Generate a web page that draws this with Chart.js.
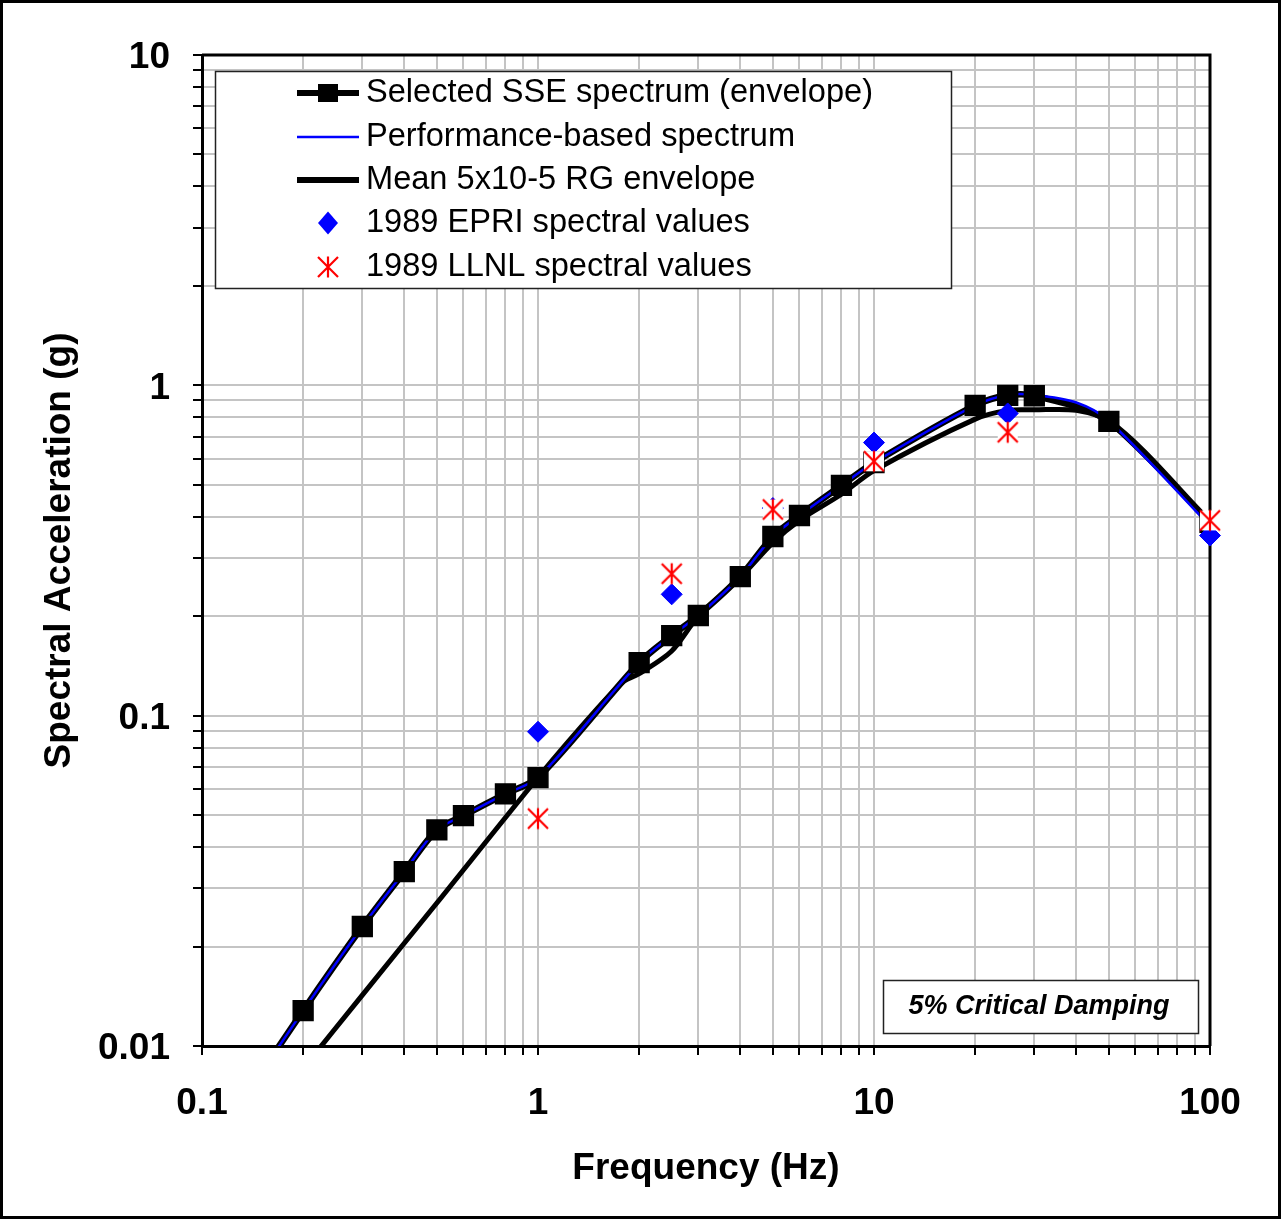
<!DOCTYPE html>
<html>
<head>
<meta charset="utf-8">
<title>Spectral Acceleration</title>
<style>
  html, body { margin: 0; padding: 0; background: #fff; }
  #chart { display: block; }
</style>
<script src="https://cdn.jsdelivr.net/npm/chart.js@4.4.1/dist/chart.umd.min.js"></script>
</head>
<body>
<canvas id="chart" width="1282" height="1220"></canvas>
<script>
// --- data (Hz, g) ---
// selected SSE spectrum (envelope) - square markers
const sseFreq = [0.1, 0.2, 0.3, 0.4, 0.5, 0.6, 0.8, 1, 2, 2.5, 3, 4, 5, 6, 8, 10, 20, 25, 30, 50, 100];
const sseAcc = [0.0045, 0.0128, 0.023, 0.0337, 0.0451, 0.0498, 0.058, 0.0649, 0.1447, 0.1747, 0.201, 0.2636, 0.3486, 0.4036, 0.4977, 0.584, 0.87, 0.933, 0.93, 0.778, 0.385];

// performance-based spectrum (thin blue)
const perfFreq = [0.1, 0.2, 0.3, 0.4, 0.5, 0.6, 0.8, 1, 2, 2.5, 3, 4, 5, 6, 8, 10, 20, 25, 30, 40, 50, 100];
const perfAcc = [0.0045, 0.0128, 0.023, 0.0337, 0.0451, 0.0498, 0.058, 0.0649, 0.1447, 0.1747, 0.201, 0.2636, 0.3486, 0.4036, 0.4977, 0.584, 0.87, 0.935, 0.935, 0.887, 0.78, 0.375];

// mean 5x10-5 RG envelope
const rgFreq = [0.1, 0.2, 0.3, 0.5, 1, 1.5, 1.8, 2, 2.5, 3, 4, 5, 6, 8, 10, 20, 25, 30, 40, 50, 100];
const rgAcc = [0.00357, 0.00855, 0.01426, 0.0271, 0.065, 0.105, 0.127, 0.134, 0.157, 0.2, 0.262, 0.334, 0.39, 0.468, 0.552, 0.79, 0.84, 0.843, 0.84, 0.775, 0.385];

// 1989 point values
const epriFreq = [1, 2.5, 5, 10, 25, 100];
const epriAcc = [0.0894, 0.233, 0.425, 0.671, 0.822, 0.351];
const llnlFreq = [1, 2.5, 5, 10, 25, 100];
const llnlAcc = [0.0488, 0.269, 0.421, 0.589, 0.721, 0.39];

const xTickLabels = ['0.1', '1', '10', '100'];
const yTickLabels = ['0.01', '0.1', '1', '10'];
const legendLabels = [
  'Selected SSE spectrum (envelope)',
  'Performance-based spectrum',
  'Mean 5x10-5 RG envelope',
  '1989 EPRI spectral values',
  '1989 LLNL spectral values'
];
const noteText = '5% Critical Damping';

const FONT = '"Liberation Sans", Arial, Helvetica, sans-serif';
const BLUE = '#0000ff';
const RED = '#ff0000';

const pts = (xs, ys) => xs.map((x, i) => ({ x: x, y: ys[i] }));

// 1..9 in every decade, for the log grid
function decadeTicks(min, max) {
  const t = [];
  for (let e = Math.round(Math.log10(min)); e < Math.round(Math.log10(max)); e++) {
    for (let m = 1; m < 10; m++) t.push({ value: +(m * Math.pow(10, e)).toPrecision(6) });
  }
  t.push({ value: max });
  return t;
}

function tickLabel(labels) {
  return function (value) {
    const hit = labels.find(l => Math.abs(Math.log10(parseFloat(l) / value)) < 1e-6);
    return hit !== undefined ? hit : '';
  };
}

// excel style asterisk: white square behind, vertical bar plus an X
function asterisk(size, color) {
  const c = document.createElement('canvas');
  c.width = size; c.height = size;
  const g = c.getContext('2d');
  const m = size / 2, r = 10;
  g.fillStyle = '#fff';
  g.fillRect(m - 10, m - 10, 20, 20);
  g.strokeStyle = color;
  g.lineWidth = 2.2;
  g.beginPath();
  g.moveTo(m, m - r - 0.5); g.lineTo(m, m + r + 0.5);
  g.moveTo(m - r, m - r); g.lineTo(m + r, m + r);
  g.moveTo(m + r, m - r); g.lineTo(m - r, m + r);
  g.stroke();
  return c;
}
const star = asterisk(24, RED);

const overlay = {
  id: 'overlay',
  beforeDatasetsDraw(chart) {
    const a = chart.chartArea, g = chart.ctx;
    g.save();
    g.strokeStyle = '#000';
    g.lineWidth = 3;
    g.beginPath();
    g.moveTo(a.left, a.top);
    g.lineTo(a.right, a.top);
    g.lineTo(a.right, a.bottom);
    g.stroke();
    g.restore();
  },
  afterDraw(chart) {
    const g = chart.ctx;
    g.save();

    // legend box
    g.fillStyle = '#fff';
    g.fillRect(215, 71, 736, 217);
    g.strokeStyle = '#222';
    g.lineWidth = 1.5;
    g.strokeRect(215.5, 71.5, 736, 217);

    const rows = [93, 137, 180, 223, 267];
    const x0 = 297, x1 = 359, xm = 328;
    g.lineCap = 'butt';

    // SSE: thick line + square
    g.strokeStyle = '#000'; g.lineWidth = 6;
    g.beginPath(); g.moveTo(x0, rows[0]); g.lineTo(x1, rows[0]); g.stroke();
    g.fillStyle = '#000';
    g.fillRect(xm - 10, rows[0] - 9, 20, 18);

    // performance: thin blue
    g.strokeStyle = BLUE; g.lineWidth = 2.5;
    g.beginPath(); g.moveTo(x0, rows[1]); g.lineTo(x1, rows[1]); g.stroke();

    // RG: thick black
    g.strokeStyle = '#000'; g.lineWidth = 6;
    g.beginPath(); g.moveTo(x0, rows[2]); g.lineTo(x1, rows[2]); g.stroke();

    // EPRI diamond
    g.fillStyle = BLUE;
    g.beginPath();
    g.moveTo(xm, rows[3] - 11.5); g.lineTo(xm + 10, rows[3]);
    g.lineTo(xm, rows[3] + 11.5); g.lineTo(xm - 10, rows[3]);
    g.closePath(); g.fill();

    // LLNL asterisk
    g.drawImage(star, xm - star.width / 2, rows[4] - star.height / 2);

    g.fillStyle = '#000';
    g.font = '32.6px ' + FONT;
    g.textBaseline = 'middle';
    g.textAlign = 'left';
    legendLabels.forEach((t, i) => g.fillText(t, 366, rows[i]));

    // damping note
    g.fillStyle = '#fff';
    g.fillRect(883, 980, 315, 53);
    g.strokeStyle = '#222';
    g.lineWidth = 1.5;
    g.strokeRect(883.5, 980.5, 315, 53);
    g.fillStyle = '#000';
    g.font = 'italic bold 27px ' + FONT;
    g.textAlign = 'center';
    g.fillText(noteText, 1039, 1007);

    // frame round the whole picture
    g.strokeStyle = '#000';
    g.lineWidth = 3;
    g.strokeRect(1.5, 1.5, 1278, 1216);
    g.restore();
  }
};

const gridOpts = {
  color: '#c4c4c4',
  lineWidth: 2,
  tickColor: '#000',
  tickWidth: 2,
  tickLength: 9
};

const chart = new Chart(document.getElementById('chart').getContext('2d'), {
  type: 'line',
  data: {
    datasets: [
      {
        label: legendLabels[4],
        data: pts(llnlFreq, llnlAcc),
        showLine: false,
        pointStyle: star,
        pointRadius: 11,
        clip: false,
        order: 0
      },
      {
        label: legendLabels[3],
        data: pts(epriFreq, epriAcc),
        showLine: false,
        pointStyle: 'rectRot',
        pointRadius: 10.5,
        pointBackgroundColor: BLUE,
        pointBorderColor: BLUE,
        pointBorderWidth: 1,
        clip: false,
        order: 1
      },
      {
        label: legendLabels[0] + ' markers',
        data: pts(sseFreq, sseAcc),
        showLine: false,
        pointStyle: 'rect',
        pointRadius: 14,
        pointBackgroundColor: '#000',
        pointBorderColor: '#000',
        pointBorderWidth: 1.5,
        borderWidth: 1,
        order: 2
      },
      {
        label: legendLabels[1],
        data: pts(perfFreq, perfAcc),
        borderColor: BLUE,
        borderWidth: 2.5,
        pointRadius: 0,
        tension: 0.3,
        order: 3
      },
      {
        label: legendLabels[0],
        data: pts(sseFreq, sseAcc),
        borderColor: '#000',
        borderWidth: 6.5,
        pointRadius: 0,
        tension: 0.3,
        order: 4
      },
      {
        label: legendLabels[2],
        data: pts(rgFreq, rgAcc),
        borderColor: '#000',
        borderWidth: 5,
        pointRadius: 0,
        tension: 0.3,
        order: 5
      }
    ]
  },
  options: {
    responsive: false,
    animation: false,
    events: [],
    layout: { padding: { top: 55, right: 72, bottom: 0, left: 0 } },
    plugins: {
      legend: { display: false },
      tooltip: { enabled: false }
    },
    scales: {
      x: {
        type: 'logarithmic',
        min: 0.1,
        max: 100,
        afterBuildTicks: s => { s.ticks = decadeTicks(0.1, 100); },
        afterFit: s => { s.height = 174; },
        grid: gridOpts,
        border: { color: '#000', width: 3 },
        ticks: {
          autoSkip: false,
          maxRotation: 0,
          padding: 27,
          color: '#000',
          font: { family: FONT, size: 37, weight: 'bold' },
          callback: tickLabel(xTickLabels)
        },
        title: {
          display: true,
          text: 'Frequency (Hz)',
          color: '#000',
          font: { family: FONT, size: 37, weight: 'bold' },
          padding: { top: 0, bottom: 29 }
        }
      },
      y: {
        type: 'logarithmic',
        min: 0.01,
        max: 10,
        afterBuildTicks: s => { s.ticks = decadeTicks(0.01, 10); },
        afterFit: s => { s.width = 202; },
        grid: gridOpts,
        border: { color: '#000', width: 3 },
        ticks: {
          autoSkip: false,
          padding: 23,
          labelOffset: 3,
          color: '#000',
          font: { family: FONT, size: 37, weight: 'bold' },
          callback: tickLabel(yTickLabels)
        },
        title: {
          display: true,
          text: 'Spectral Acceleration (g)',
          color: '#000',
          font: { family: FONT, size: 37, weight: 'bold' },
          padding: { top: 38, bottom: 0 }
        }
      }
    }
  },
  plugins: [overlay]
});
</script>
</body>
</html>
